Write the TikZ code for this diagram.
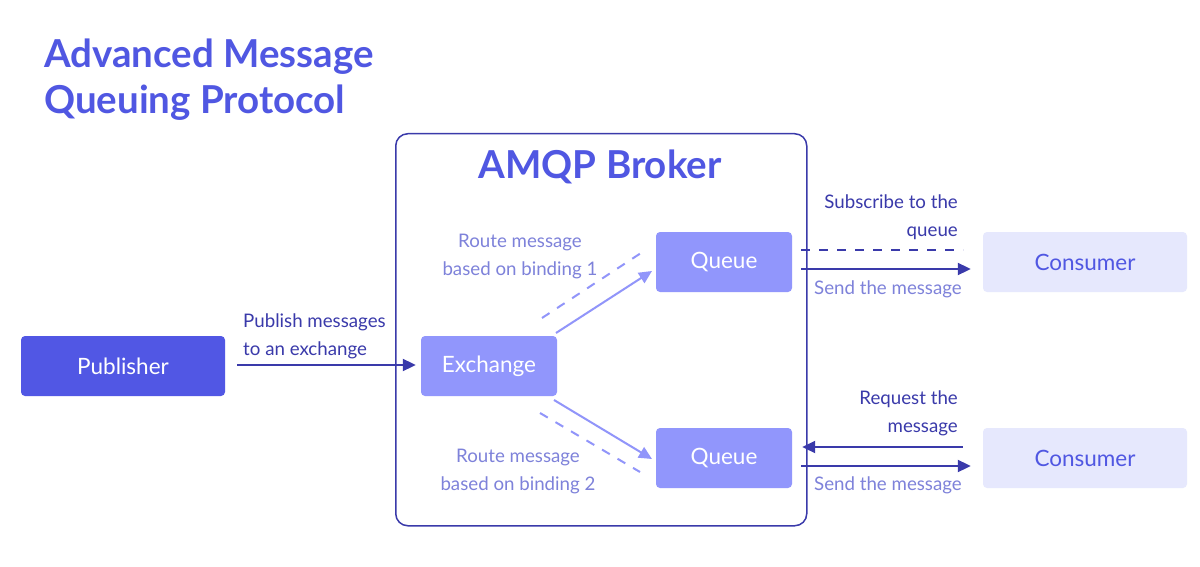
\documentclass[tikz,border=0pt]{standalone}
\usepackage{fontspec}
\setmainfont{Lato}
\usetikzlibrary{arrows.meta}
\definecolor{titleblue}{HTML}{5057E2}
\definecolor{darkline}{HTML}{3A3AAA}
\definecolor{pubfill}{HTML}{5157E4}
\definecolor{lightfill}{HTML}{9196FC}
\definecolor{consfill}{HTML}{E6E8FD}
\definecolor{lighttext}{HTML}{7E82DA}
\definecolor{lightline}{HTML}{9195FA}
\tikzset{
  box/.style={rounded corners=4pt, minimum height=60pt, inner sep=0pt, font=\fontsize{22.5}{27}\selectfont},
  pubbox/.style={box, fill=pubfill, text=white, minimum width=204pt},
  lightbox/.style={box, fill=lightfill, text=white, minimum width=136pt},
  consbox/.style={box, fill=consfill, text=titleblue, minimum width=204pt},
  darkarrow/.style={draw=darkline, line width=2pt, -{Triangle[length=13pt,width=12pt]}},
  darkdash/.style={draw=darkline, line width=2pt, dash pattern=on 9pt off 9pt},
  lightarrow/.style={draw=lightline, line width=2pt, -{Triangle[length=13pt,width=12pt]}},
  lightdash/.style={draw=lightline, line width=2pt, dash pattern=on 9pt off 9pt},
  darklabel/.style={text=darkline, font=\fontsize{18.7}{28}\selectfont, inner sep=0pt},
  lightlabel/.style={text=lighttext, font=\fontsize{18.7}{28}\selectfont, inner sep=0pt},
}
\begin{document}
\begin{tikzpicture}[x=1pt,y=-1pt]
\useasboundingbox[fill=white] (0,0) rectangle (1200,567);
% title
\node[anchor=base west, text=titleblue, font=\fontsize{38.5}{47}\selectfont\bfseries, inner sep=0pt, align=left] (title) at (44,114) {Advanced Message\\Queuing Protocol};
% broker frame
\node[draw=darkline, line width=1.5pt, rounded corners=12pt, minimum width=411pt, minimum height=392pt, anchor=north west, inner sep=0pt] (broker) at (395,133) {};
\node[text=titleblue, font=\fontsize{38.5}{42}\selectfont\bfseries, inner sep=0pt] (brokertitle) at (600,167) {AMQP Broker};
% nodes
\node[pubbox] (pub) at (123,366) {Publisher};
\node[lightbox] (ex) at (489,366) {Exchange};
\node[lightbox] (q1) at (724,262) {Queue};
\node[lightbox] (q2) at (724,458) {Queue};
\node[consbox] (c1) at (1085,262) {Consumer};
\node[consbox] (c2) at (1085,458) {Consumer};
% publisher arrow
\draw[darkarrow] ([xshift=12pt, yshift=1pt]pub.east) -- ([xshift=-5pt, yshift=1pt]ex.west);
\node[darklabel, anchor=base west, align=left] (publab) at (243,355) {Publish messages\\to an exchange};
% exchange to queues
\coordinate (e1s) at (556,333);
\coordinate (e1t) at (652,271);
\draw[lightarrow] (e1s) -- (e1t);
\coordinate (d1s) at (542,318);
\coordinate (d1t) at (641,253);
\draw[lightdash] (d1s) -- (d1t);
\coordinate (e2s) at (554,400);
\coordinate (e2t) at (652,459);
\draw[lightarrow] (e2s) -- (e2t);
\coordinate (d2s) at (540,413);
\coordinate (d2t) at (640,472);
\draw[lightdash] (d2s) -- (d2t);
\node[lightlabel, align=center] (r1) at (520,257) {Route message\\based on binding 1};
\node[lightlabel, align=center] (r2) at (518,472) {Route message\\based on binding 2};
% queue 1 - consumer 1
\coordinate (s1a) at (801,250);
\coordinate (s1b) at (963,250);
\draw[darkdash] (s1a) -- (s1b);
\draw[darkarrow] ([yshift=-7pt, xshift=9pt]q1.east) -- ([yshift=-7pt, xshift=-12pt]c1.west);
\node[darklabel, anchor=base east, align=right] (sublab) at (958,236) {Subscribe to the\\queue};
\node[lightlabel, anchor=base east] (send1) at (962,294) {Send the message};
% queue 2 - consumer 2
\draw[darkarrow] ([yshift=11pt, xshift=-20pt]c2.west) -- ([yshift=11pt, xshift=10pt]q2.east);
\draw[darkarrow] ([yshift=-8pt, xshift=9pt]q2.east) -- ([yshift=-8pt, xshift=-12pt]c2.west);
\node[darklabel, anchor=base east, align=right] (reqlab) at (958,432) {Request the\\message};
\node[lightlabel, anchor=base east] (send2) at (962,490) {Send the message};
\end{tikzpicture}
\end{document}
